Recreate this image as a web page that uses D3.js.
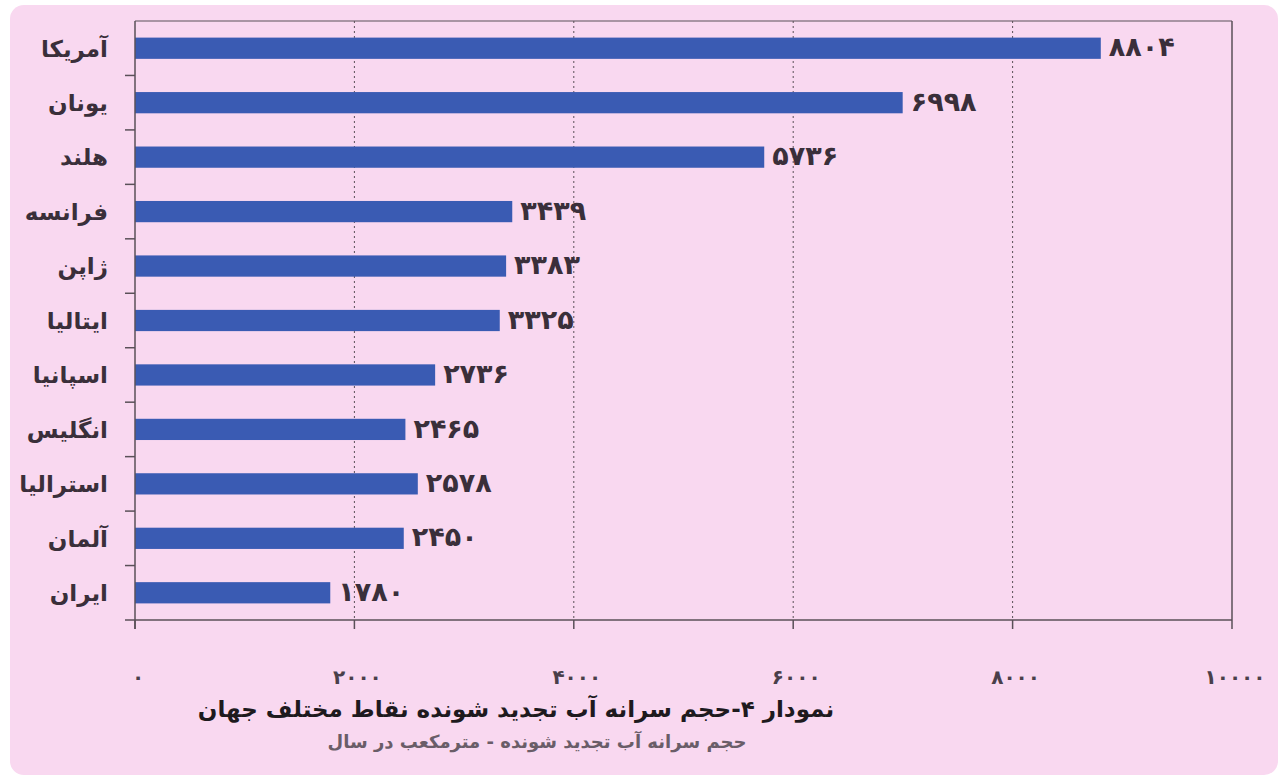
<!DOCTYPE html>
<html>
<head>
<meta charset="utf-8">
<script src="https://cdn.jsdelivr.net/npm/d3@7"></script>
<style>
  html, body { margin: 0; padding: 0; background: #ffffff; }
  svg { display: block; }
</style>
</head>
<body>
<svg id="chart" width="1284" height="783"></svg>
<script>
const categories = ["آمریکا", "یونان", "هلند", "فرانسه", "ژاپن", "ایتالیا", "اسپانیا", "انگلیس", "استرالیا", "آلمان", "ایران"];
const values = [8804, 6998, 5736, 3439, 3383, 3325, 2736, 2465, 2578, 2450, 1780];
const xTicks = [0, 2000, 4000, 6000, 8000, 10000];
const title = "نمودار ۴-حجم سرانه آب تجدید شونده نقاط مختلف جهان";
const subtitle = "حجم سرانه آب تجدید شونده - مترمکعب در سال";

const fa = v => String(v).replace(/\d/g, d => "۰۱۲۳۴۵۶۷۸۹"[+d]);

const svg = d3.select("#chart");
const pLeft = 135, pRight = 1232, pTop = 21, pBottom = 620;
const font = "'DejaVu Sans', sans-serif";

// background panel
svg.append("rect").attr("x", 10).attr("y", 5).attr("width", 1268).attr("height", 770)
  .attr("rx", 14).attr("fill", "#f9d8f0");

const x = d3.scaleLinear().domain([0, 10000]).range([pLeft, pRight]);
const y = d3.scaleBand().domain(categories).range([pTop, pBottom]).paddingInner(0.61).paddingOuter(0.305);

// gridlines (dotted)
svg.append("g").selectAll("line").data(xTicks.filter(t => t > 0 && t < 10000)).join("line")
  .attr("x1", d => x(d)).attr("x2", d => x(d)).attr("y1", pTop).attr("y2", pBottom)
  .attr("stroke", "#5a5058").attr("stroke-width", 1).attr("stroke-dasharray", "2,3");

// plot border top & right
svg.append("line").attr("x1", pLeft).attr("x2", pRight).attr("y1", pTop).attr("y2", pTop)
  .attr("stroke", "#5a5058").attr("stroke-width", 1.2);
svg.append("line").attr("x1", pRight).attr("x2", pRight).attr("y1", pTop).attr("y2", pBottom)
  .attr("stroke", "#5a5058").attr("stroke-width", 1.5);

// bars
svg.append("g").selectAll("rect").data(values).join("rect")
  .attr("x", x(0))
  .attr("y", (d, i) => y(categories[i]))
  .attr("width", d => x(d) - x(0))
  .attr("height", y.bandwidth())
  .attr("fill", "#3a5bb3");

// value labels
svg.append("g").selectAll("text").data(values).join("text")
  .attr("x", d => x(d) + 8)
  .attr("y", (d, i) => y(categories[i]) + y.bandwidth() / 2)
  .attr("dy", "0.3em")
  .attr("text-anchor", "start")
  .attr("direction", "ltr")
  .attr("letter-spacing", 3)
  .attr("font-family", font).attr("font-weight", "bold").attr("font-size", 27)
  .attr("fill", "#3a2f3a")
  .text(d => fa(d));

// y axis (category)
const yAxisG = svg.append("g").attr("transform", `translate(${pLeft},0)`);
const boundaries = d3.range(categories.length + 1).map(i => pTop + i * y.step());
yAxisG.append("line").attr("x1", 0).attr("x2", 0).attr("y1", pTop).attr("y2", pBottom + 9)
  .attr("stroke", "#5a5058").attr("stroke-width", 1.5);
yAxisG.selectAll("line.tk").data(boundaries.slice(1, -1)).join("line").attr("class", "tk")
  .attr("x1", -10).attr("x2", 0).attr("y1", d => d).attr("y2", d => d)
  .attr("stroke", "#5a5058").attr("stroke-width", 1.5);
yAxisG.selectAll("text").data(categories).join("text")
  .attr("x", -27)
  .attr("y", d => y(d) + y.bandwidth() / 2)
  .attr("dy", "0.36em")
  .attr("text-anchor", "end")
  .attr("font-family", font).attr("font-weight", "bold").attr("font-size", 23)
  .attr("fill", "#3a2f3a")
  .text(d => d);

// x axis
const xAxisG = svg.append("g");
xAxisG.append("line").attr("x1", pLeft - 10).attr("x2", pRight).attr("y1", pBottom).attr("y2", pBottom)
  .attr("stroke", "#5a5058").attr("stroke-width", 1.5);
xAxisG.selectAll("line.tk").data(xTicks).join("line").attr("class", "tk")
  .attr("x1", d => x(d)).attr("x2", d => x(d)).attr("y1", pBottom).attr("y2", pBottom + 9)
  .attr("stroke", "#5a5058").attr("stroke-width", 1.5);
xAxisG.selectAll("text").data(xTicks).join("text")
  .attr("x", d => x(d) + 3)
  .attr("y", pBottom + 64)
  .attr("text-anchor", "middle")
  .attr("direction", "ltr")
  .attr("letter-spacing", 6)
  .attr("font-family", font).attr("font-weight", "bold").attr("font-size", 20)
  .attr("fill", "#4a3f4a")
  .text(d => fa(d));

// titles
svg.append("text").attr("x", 516).attr("y", 717).attr("text-anchor", "middle")
  .attr("font-family", font).attr("font-weight", "bold").attr("font-size", 23)
  .attr("fill", "#1e1a1e").text(title);
svg.append("text").attr("x", 537).attr("y", 748).attr("text-anchor", "middle")
  .attr("font-family", font).attr("font-weight", "bold").attr("font-size", 18)
  .attr("fill", "#6a5d68").text(subtitle);
</script>
</body>
</html>
